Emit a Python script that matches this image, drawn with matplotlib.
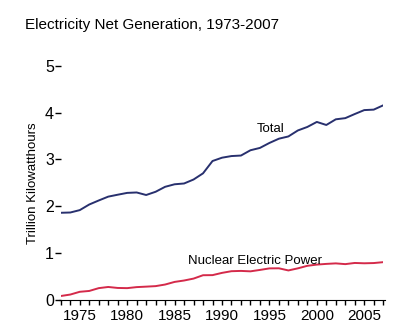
import matplotlib.pyplot as plt
import numpy as np

plt.rcParams['font.family'] = ['Liberation Sans', 'DejaVu Sans']

# data (trillion kWh)
years = list(range(1973, 2008))
total = [1.861, 1.867, 1.918, 2.038, 2.124, 2.206, 2.247, 2.286, 2.295, 2.241,
         2.310, 2.416, 2.470, 2.487, 2.572, 2.704, 2.967, 3.038, 3.073, 3.084,
         3.197, 3.247, 3.353, 3.444, 3.492, 3.620, 3.695, 3.802, 3.737, 3.858,
         3.883, 3.971, 4.055, 4.065, 4.157]
nuclear = [0.083, 0.114, 0.173, 0.191, 0.251, 0.276, 0.255, 0.251, 0.273, 0.283,
           0.294, 0.328, 0.384, 0.414, 0.455, 0.527, 0.529, 0.577, 0.613, 0.619,
           0.610, 0.640, 0.673, 0.675, 0.629, 0.674, 0.728, 0.754, 0.769, 0.780,
           0.764, 0.789, 0.782, 0.787, 0.806]
xticks = [1975, 1980, 1985, 1990, 1995, 2000, 2005]
yticks = [0, 1, 2, 3, 4, 5]

fig = plt.figure(figsize=(4.0, 3.31), dpi=100)
ax = fig.add_axes([0.152, 0.094, 0.806, 0.707])

ax.plot(years, total, color='#28306e', lw=1.4)
ax.plot(years, nuclear, color='#d42a4a', lw=1.4)

ax.set_xlim(1973, 2007)
ax.set_ylim(0, 5)

for s in ['top', 'right', 'left']:
    ax.spines[s].set_visible(False)
ax.spines['bottom'].set_bounds(1972.8, 2007.2)

ax.set_xticks(xticks)
ax.set_xticks(years, minor=True)
ax.set_yticks(yticks)
ax.tick_params(axis='x', which='both', direction='out', length=3.5, width=1, labelsize=11, pad=3)
ax.tick_params(axis='y', direction='out', length=4, width=1, labelsize=11.5, pad=1)

ax.set_ylabel('Trillion Kilowatthours', fontsize=9.5, labelpad=4)

ax.text(1995.1, 3.66, 'Total', fontsize=9.5, ha='center', va='center')
ax.text(1993.5, 0.83, 'Nuclear Electric Power', fontsize=9.5, ha='center', va='center')

fig.text(0.0625, 0.925, 'Electricity Net Generation, 1973-2007', fontsize=11, ha='left', va='center')

fig.savefig('out.png', dpi=100)
